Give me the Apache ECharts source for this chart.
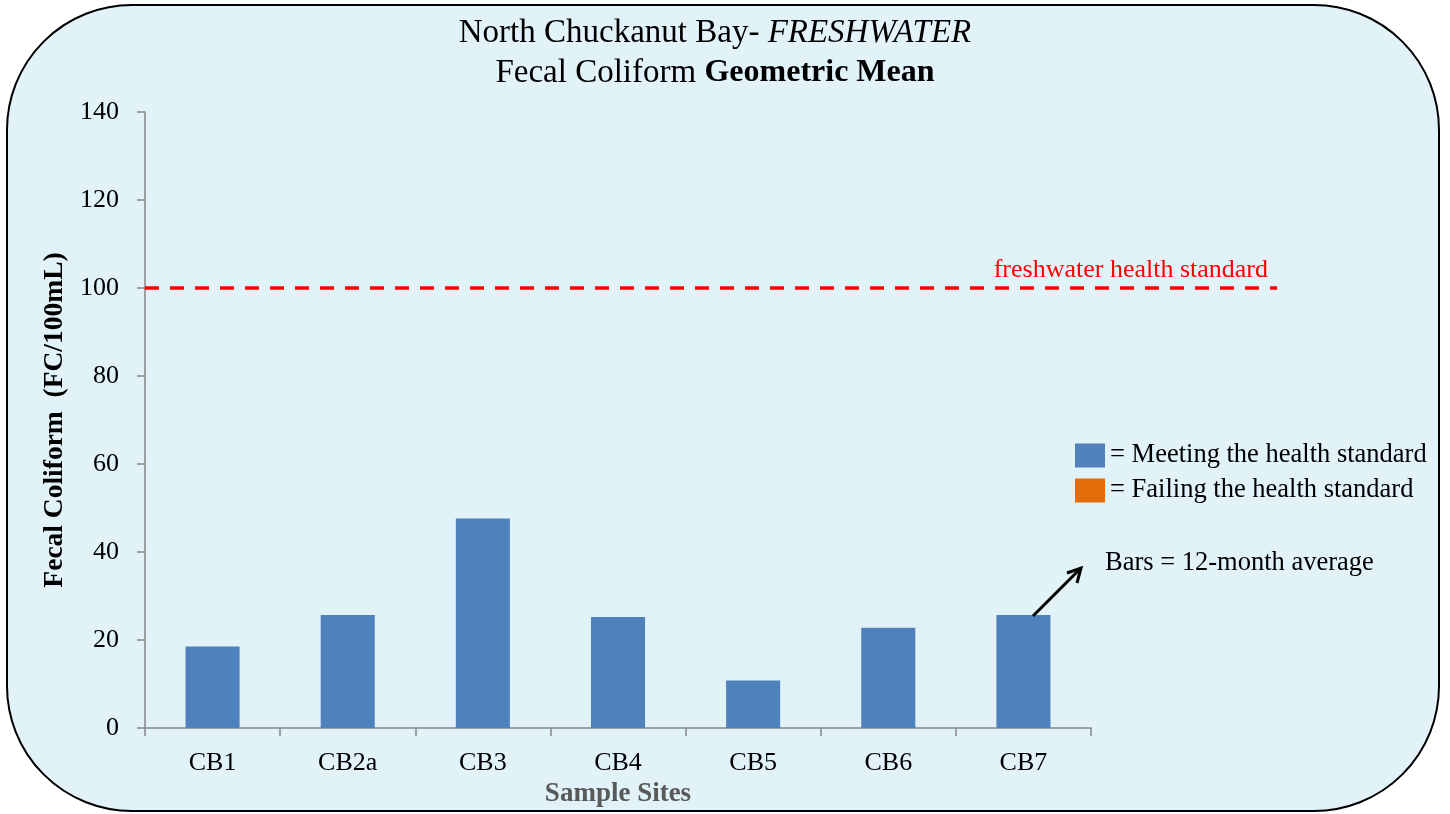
<!DOCTYPE html>
<html><head><meta charset="utf-8">
<script src="https://cdn.jsdelivr.net/npm/echarts@6/dist/echarts.min.js"></script>
<style>html,body{margin:0;padding:0;background:#fff}#c{width:1450px;height:814px}</style>
</head><body><div id="c"></div>
<script>
const categories = ['CB1','CB2a','CB3','CB4','CB5','CB6','CB7'];
const meetingValues = [18.5, 25.7, 47.6, 25.2, 10.8, 22.8, 25.7];
const failingValues = [null, null, null, null, null, null, null];
const standardValue = 100;
const yTicks = [0, 20, 40, 60, 80, 100, 120, 140];

const serif = '"Liberation Serif", "DejaVu Serif", serif';
const chart = echarts.init(document.getElementById('c'));
chart.setOption({
  backgroundColor: '#fff',
  animation: false,
  title: {
    text: 'North Chuckanut Bay- {i|FRESHWATER}\nFecal Coliform {b|Geometric Mean}',
    left: 710, top: 8, textAlign: 'center',
    textStyle: {
      fontFamily: serif, fontSize: 33, fontWeight: 'normal', color: '#000', lineHeight: 40,
      rich: {
        i: {fontFamily: serif, fontSize: 33, fontStyle: 'italic', color: '#000', lineHeight: 40},
        b: {fontFamily: serif, fontSize: 32, fontWeight: 'bold', color: '#000', lineHeight: 40}
      }
    }
  },
  graphic: [
    {type: 'rect', z: -10, silent: true,
     shape: {x: 7, y: 5, width: 1432, height: 806, r: 125},
     style: {fill: '#E1F2F9', stroke: '#000', lineWidth: 2}},
    {type: 'text', left: 1105, top: 550, z: 10,
     style: {text: 'Bars = 12-month average', font: '26.5px ' + serif, fill: '#000'}},
    {type: 'line', z: 10, shape: {x1: 1033, y1: 616, x2: 1080, y2: 569},
     style: {stroke: '#000', lineWidth: 3}},
    {type: 'polyline', z: 10, shape: {points: [[1067, 573], [1081, 568], [1077, 583]]},
     style: {stroke: '#000', lineWidth: 3, fill: null}}
  ],
  legend: {
    orient: 'vertical', left: 1070, top: 437, itemWidth: 30, itemHeight: 24, itemGap: 8,
    icon: 'rect',
    textStyle: {fontFamily: serif, fontSize: 26.5, lineHeight: 24, color: '#000', padding: [2, 0, 0, 0]},
    data: ['= Meeting the health standard', '= Failing the health standard']
  },
  grid: [
    {left: 145, right: 359, top: 112, bottom: 86},
    {left: 145, right: 173, top: 112, bottom: 86}
  ],
  xAxis: [
    {type: 'category', data: categories, gridIndex: 0,
     axisLine: {lineStyle: {color: '#868686', width: 1.5}},
     axisTick: {show: true, length: 8, lineStyle: {color: '#868686', width: 1.5}},
     axisLabel: {fontFamily: serif, fontSize: 26, color: '#000', margin: 22},
     name: 'Sample Sites', nameLocation: 'middle', nameGap: 46,
     nameTextStyle: {fontFamily: serif, fontSize: 27, fontWeight: 'bold', color: '#595959'}},
    {type: 'value', gridIndex: 1, min: 0, max: 1, show: false}
  ],
  yAxis: [
    {type: 'value', gridIndex: 0, min: 0, max: 140, interval: 20,
     axisLine: {show: true, lineStyle: {color: '#868686', width: 1.5}},
     axisTick: {show: true, length: 8, lineStyle: {color: '#868686', width: 1.5}},
     splitLine: {show: false},
     axisLabel: {fontFamily: serif, fontSize: 26, color: '#000', margin: 26,
       formatter: v => yTicks.includes(v) ? String(v) : ''},
     name: 'Fecal Coliform  (FC/100mL)', nameLocation: 'middle', nameGap: 74,
     nameTextStyle: {fontFamily: serif, fontSize: 27.5, fontWeight: 'bold', color: '#000'}},
    {type: 'value', gridIndex: 1, min: 0, max: 140, show: false}
  ],
  series: [
    {name: '= Meeting the health standard', type: 'bar', data: meetingValues,
     xAxisIndex: 0, yAxisIndex: 0, barWidth: '40%', barGap: '-100%',
     itemStyle: {color: '#4F81BD'}},
    {name: '= Failing the health standard', type: 'bar', data: failingValues,
     xAxisIndex: 0, yAxisIndex: 0, barWidth: '40%',
     itemStyle: {color: '#E36C09'}},
    {name: 'standard', type: 'line', xAxisIndex: 1, yAxisIndex: 1,
     data: [
       [0, standardValue],
       {value: [1, standardValue],
        label: {show: true, formatter: 'freshwater health standard', position: 'top', align: 'right',
          distance: 4, offset: [-9, 0], fontFamily: serif, fontSize: 26, color: '#FF0000'}}
     ],
     symbol: 'circle', symbolSize: 1, showSymbol: true,
     itemStyle: {color: '#FF0000'},
     lineStyle: {color: '#FF0000', width: 3.5, type: [14, 11]}}
  ]
});
</script></body></html>
